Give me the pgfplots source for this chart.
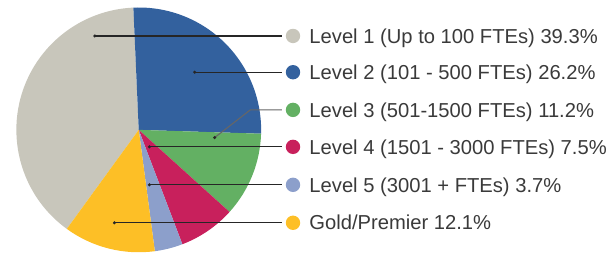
\documentclass[border=0pt]{standalone}
\usepackage{pgfplots}
\pgfplotsset{compat=1.18}
\usepackage{pgfplotstable}
\usepackage{fontspec}
\setmainfont{Liberation Sans}
\definecolor{cL1}{HTML}{C8C6BB}
\definecolor{cL2}{HTML}{33619E}
\definecolor{cL3}{HTML}{63B063}
\definecolor{cL4}{HTML}{C8205C}
\definecolor{cL5}{HTML}{8C9FCB}
\definecolor{cG}{HTML}{FDBF26}
\definecolor{txt}{HTML}{3A3A3A}
\definecolor{lead}{HTML}{262626}
\newcommand\legfont{\fontsize{20.2bp}{24bp}\selectfont}
\pgfplotstableread[col sep=comma]{
value,col,name,row,dotx
39.3,cL1,Level 1 (Up to 100 FTEs) 39.3,36,94.3
26.2,cL2,Level 2 (101 - 500 FTEs) 26.2,72.3,194.3
11.2,cL3,Level 3 (501-1500 FTEs) 11.2,110,214.3
7.5,cL4,Level 4 (1501 - 3000 FTEs) 7.5,147,149
3.7,cL5,Level 5 (3001 + FTEs) 3.7,185,149
12.1,cG,Gold/Premier 12.1,223,114
}\piedata
\begin{document}
\begin{tikzpicture}
\begin{axis}[hide axis, scale only axis, width=611bp, height=253bp,
  xmin=0, xmax=611, ymin=0, ymax=253, clip=false]
\path (axis cs:0,0) rectangle (axis cs:611,253);
\def\curang{234}
\pgfplotsforeachungrouped \i in {0,...,5}{%
  \pgfplotstablegetelem{\i}{value}\of\piedata \let\val\pgfplotsretval
  \pgfplotstablegetelem{\i}{col}\of\piedata \let\colr\pgfplotsretval
  \pgfplotstablegetelem{\i}{name}\of\piedata \let\nm\pgfplotsretval
  \pgfplotstablegetelem{\i}{row}\of\piedata \let\rw\pgfplotsretval
  \pgfmathsetmacro\endang{\curang-3.6*\val}
  \pgfmathsetmacro\yrow{253-\rw}
  \pgfmathsetmacro\ybase{253-\rw-7.2}
  \edef\temp{%
    \noexpand\fill[\colr] (axis cs:138.3,123) -- ++(\curang:122.5bp) arc[start angle=\curang, end angle=\endang, radius=122.5bp] -- cycle;
    \noexpand\fill[\colr] (axis cs:292.7,\yrow) circle[radius=7.2bp];
    \noexpand\node[anchor=base west, inner sep=0pt, font=\noexpand\legfont, text=txt] at (axis cs:309,\ybase) {\nm\noexpand\%};
  }%
  \temp
  \global\let\curang\endang
}
% leader lines
\draw[lead, line width=1.1bp] (axis cs:94.3,217) -- (axis cs:281.5,217);
\draw[lead, line width=1.1bp] (axis cs:194.3,180.7) -- (axis cs:281.5,180.7);
\draw[black!60, line width=1.1bp] (axis cs:214.3,115.3) -- (axis cs:250,143) -- (axis cs:281.5,143);
\draw[lead, line width=1.1bp] (axis cs:149,106) -- (axis cs:281.5,106);
\draw[lead, line width=1.1bp] (axis cs:149,68) -- (axis cs:281.5,68);
\draw[lead, line width=1.1bp] (axis cs:114,30) -- (axis cs:281.5,30);
\fill[lead] (axis cs:94.3,217) circle[radius=1.7bp];
\fill[lead] (axis cs:194.3,180.7) circle[radius=1.7bp];
\fill[lead] (axis cs:214.3,115.3) circle[radius=1.7bp];
\fill[lead] (axis cs:149,106) circle[radius=1.7bp];
\fill[lead] (axis cs:149,68) circle[radius=1.7bp];
\fill[lead] (axis cs:114,30) circle[radius=1.7bp];
\end{axis}
\end{tikzpicture}
\end{document}
